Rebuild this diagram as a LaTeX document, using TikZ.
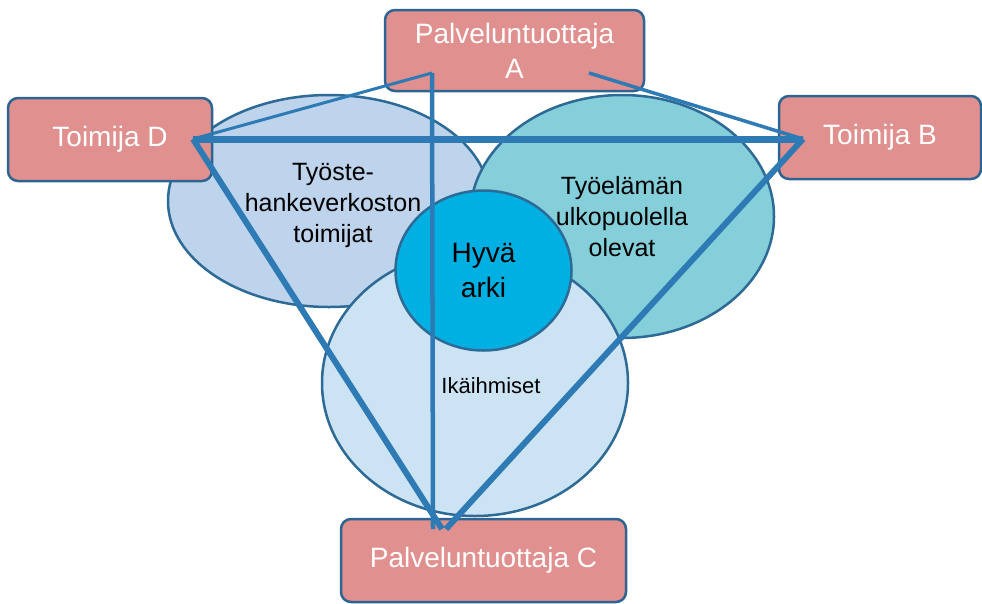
\documentclass[tikz,border=0pt]{standalone}
\usepackage{fontspec}
\setmainfont{Liberation Sans}
\usetikzlibrary{shapes.geometric}
\definecolor{boxfill}{RGB}{224,144,142}
\definecolor{boxline}{RGB}{46,100,146}
\definecolor{ringline}{RGB}{46,106,150}
\definecolor{conn}{RGB}{46,122,181}
\definecolor{leftfill}{RGB}{190,211,236}
\definecolor{rightfill}{RGB}{132,207,218}
\definecolor{bottomfill}{RGB}{204,227,243}
\definecolor{centerfill}{RGB}{0,176,226}
\tikzset{
  actorbox/.style={rectangle, rounded corners=10pt, draw=boxline, line width=2.5pt,
    fill=boxfill, text=white, inner sep=0pt, align=center,
    font=\fontsize{28}{35}\selectfont},
  blob/.style={ellipse, draw=ringline, line width=2.5pt, inner sep=0pt, align=center,
    font=\fontsize{25}{31}\selectfont},
  conline/.style={draw=conn, line cap=butt, line join=miter}
}
\begin{document}
\begin{tikzpicture}[x=1pt, y=-1pt]
\useasboundingbox (0,0) rectangle (982,603);
% overlapping ellipses
\node[blob, fill=leftfill, minimum width=322pt, minimum height=212pt] (work) at (329,201) {};
\node[font=\fontsize{25}{31}\selectfont, align=center, inner sep=0pt] (worktxt) at (333,205)
  {Työste-\\hankeverkoston\\toimijat};
\node[blob, fill=rightfill, minimum width=304pt, minimum height=243pt] (outside) at (622,216.5)
  {Työelämän\\ulkopuolella\\olevat};
\node[blob, fill=bottomfill, minimum width=306pt, minimum height=266pt] (elder) at (475,383) {};
\node[font=\fontsize{22}{26}\selectfont, inner sep=0pt] (eldertxt) at (491,386) {Ikäihmiset};
\node[blob, fill=centerfill, minimum width=176pt, minimum height=160pt,
  font=\fontsize{28}{35}\selectfont] (good) at (483.5,270.5) {Hyvä\\arki};
% boxes
\node[actorbox, minimum width=259pt, minimum height=81pt] (A) at (514.5,50.5)
  {Palveluntuottaja\\A};
\node[actorbox, minimum width=204pt, minimum height=83pt] (D) at (110,139.5) {Toimija D};
\node[actorbox, minimum width=202pt, minimum height=83pt] (B) at (880,137.5) {Toimija B};
\node[actorbox, minimum width=285pt, minimum height=83pt] (C) at (483.5,560.5) {Palveluntuottaja C};
% connector ends
\coordinate (aL) at (432,73);
\coordinate (aR) at (589,73);
\coordinate (dP) at (193,139);
\coordinate (bP) at (803,139);
\coordinate (cL) at (433,529);
\coordinate (cM) at (442,529);
\coordinate (cR) at (446,529);
% connectors
\draw[conline, line width=3pt] (aL) -- (dP);
\draw[conline, line width=3.5pt] (aR) -- (bP);
\draw[conline, line width=4.5pt] (aL) -- (cL);
\draw[conline, line width=7pt] (dP) -- (bP);
\draw[conline, line width=6pt] (dP) -- (cM);
\draw[conline, line width=6pt] (bP) -- (cR);
\end{tikzpicture}
\end{document}
